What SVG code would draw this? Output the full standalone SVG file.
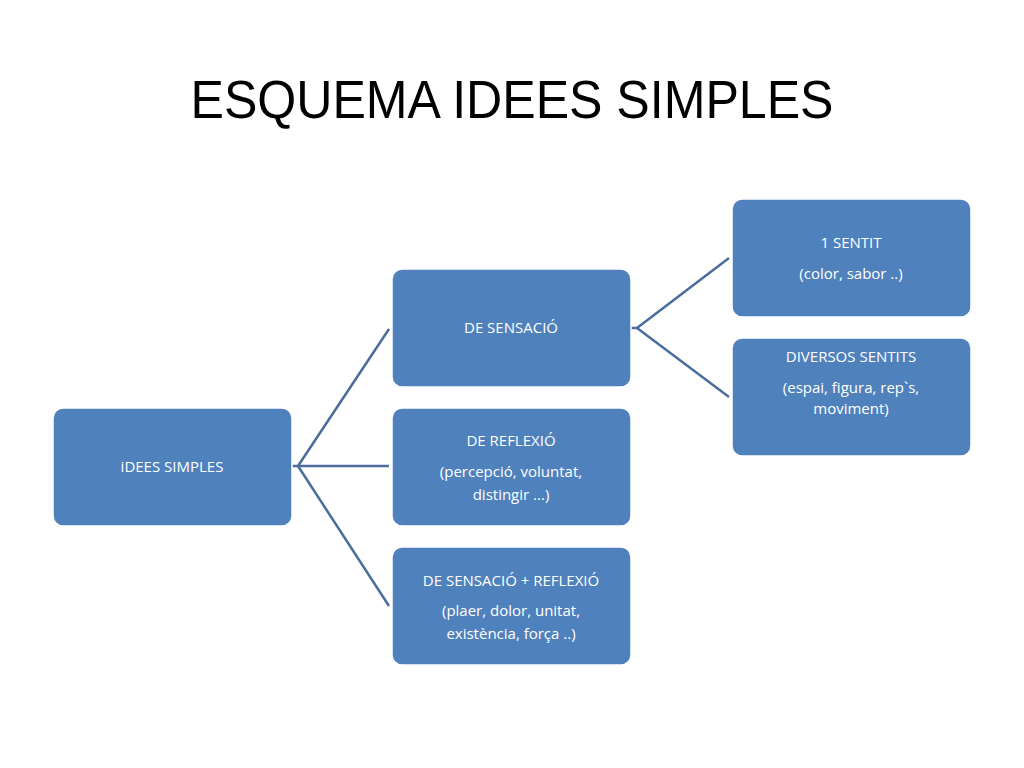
<svg xmlns="http://www.w3.org/2000/svg" width="1024" height="768" viewBox="0 0 1024 768">
<style>
.n rect{fill:#4f81bd;stroke:#ffffff;stroke-width:1.5}
.n text{fill:#ffffff;font-family:"Open Sans","Liberation Sans",sans-serif;font-size:15px;text-anchor:middle}
.c line{stroke:#4a6d9c;stroke-width:2.5}
</style>
<rect width="1024" height="768" fill="#ffffff"/>
<text x="512" y="118" font-family="'Liberation Sans',sans-serif" font-size="54" text-anchor="middle" textLength="643" lengthAdjust="spacingAndGlyphs" fill="#000">ESQUEMA IDEES SIMPLES</text>
<g class="c">
<line x1="292" y1="466" x2="298" y2="466"/>
<line x1="298" y1="466" x2="389" y2="329"/>
<line x1="298" y1="466" x2="389" y2="466"/>
<line x1="298" y1="466" x2="389" y2="606"/>
<line x1="631" y1="328" x2="637" y2="328"/>
<line x1="637" y1="328" x2="729" y2="258"/>
<line x1="637" y1="328" x2="729" y2="397"/>
</g>
<g id="n1" class="n"><rect x="53" y="408" width="239" height="118" rx="10"/><text x="172" y="472">iDEES SIMPLES</text></g>
<g id="n2" class="n"><rect x="392" y="269" width="239" height="118" rx="10"/><text x="511" y="333">DE SENSACIÓ</text></g>
<g id="n3" class="n"><rect x="392" y="408" width="239" height="118" rx="10"/><text x="511" y="446">DE REFLEXIÓ</text><text x="511" y="477">(percepció, voluntat,</text><text x="511" y="500">distingir ...)</text></g>
<g id="n4" class="n"><rect x="392" y="547" width="239" height="118" rx="10"/><text x="511" y="586">DE SENSACIÓ + REFLEXIÓ</text><text x="511" y="616">(plaer, dolor, unitat,</text><text x="511" y="639">existència, força ..)</text></g>
<g id="n5" class="n"><rect x="732" y="199" width="239" height="118" rx="10"/><text x="851" y="248">1 SENTIT</text><text x="851" y="279">(color, sabor ..)</text></g>
<g id="n6" class="n"><rect x="732" y="338" width="239" height="118" rx="10"/><text x="851" y="362">DIVERSOS SENTITS</text><text x="851" y="393">(espai, figura, rep`s,</text><text x="851" y="414">moviment)</text></g>
</svg>
